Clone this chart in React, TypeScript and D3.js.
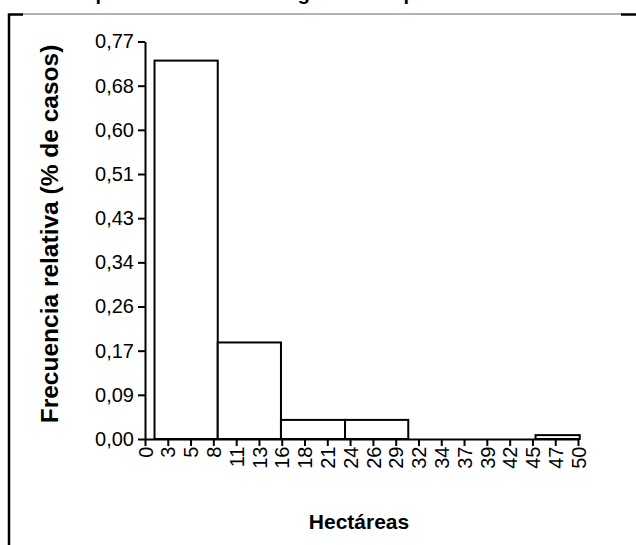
import * as d3 from "d3";
import React, { useEffect, useRef } from "react";

const binEdges = [1.1, 8.4, 15.7, 23.1, 30.4, 37.7, 45.1, 50.2];
const binValues = [0.733, 0.187, 0.037, 0.037, 0, 0, 0.0075];

const yTickValues = [0, 0.0856, 0.1711, 0.2567, 0.3422, 0.4278, 0.5133, 0.5989, 0.6844, 0.77];
const yTickLabels = ["0,00", "0,09", "0,17", "0,26", "0,34", "0,43", "0,51", "0,60", "0,68", "0,77"];

const xTickValues = [
  0, 2.63, 5.26, 7.89, 10.53, 13.16, 15.79, 18.42, 21.05, 23.68, 26.32, 28.95, 31.58, 34.21, 36.84,
  39.47, 42.11, 44.74, 47.37, 50,
];
const xTickLabels = [
  "0", "3", "5", "8", "11", "13", "16", "18", "21", "24", "26", "29", "32", "34", "37", "39", "42",
  "45", "47", "50",
];

const titleText = "Superficie de las fincas ganaderas por tamaño";
const xLabel = "Hectáreas";
const yLabel = "Frecuencia relativa (% de casos)";

const W = 636;
const H = 545;
const FONT = "'Liberation Sans', Arial, sans-serif";

const App: React.FC = () => {
  const ref = useRef<SVGSVGElement>(null);

  useEffect(() => {
    if (!ref.current) return;
    const svg = d3.select(ref.current);
    svg.selectAll("*").remove();

    const x = d3.scaleLinear().domain([0, 50]).range([145, 578]);
    const y = d3.scaleLinear().domain([0, 0.77]).range([439, 41.5]);

    svg.append("rect").attr("width", W).attr("height", H).attr("fill", "#fff");

    // title, cut off at the top edge as in the source image
    svg
      .append("text")
      .attr("x", 70)
      .attr("y", 0)
      .style("font-family", FONT)
      .style("font-weight", "bold")
      .style("font-size", "20px")
      .text(titleText);

    // frame
    svg
      .append("line")
      .attr("x1", 22).attr("x2", 621).attr("y1", 14).attr("y2", 14)
      .attr("stroke", "#666").attr("stroke-width", 1);
    svg
      .append("path")
      .attr("d", `M23,14.5H9V${H}`)
      .attr("fill", "none").attr("stroke", "#000").attr("stroke-width", 2.5);
    svg
      .append("line")
      .attr("x1", 621).attr("x2", W).attr("y1", 14.5).attr("y2", 14.5)
      .attr("stroke", "#000").attr("stroke-width", 2.5);

    // bars
    const bins = binValues.map((v, i) => ({ x0: binEdges[i], x1: binEdges[i + 1], v }));
    svg
      .append("g")
      .selectAll("rect")
      .data(bins.filter((d) => d.v > 0))
      .enter()
      .append("rect")
      .attr("x", (d) => x(d.x0))
      .attr("y", (d) => y(d.v))
      .attr("width", (d) => x(d.x1) - x(d.x0))
      .attr("height", (d) => y(0) - y(d.v))
      .attr("fill", "#fff")
      .attr("stroke", "#000")
      .attr("stroke-width", 2);

    // y axis
    const yAxis = svg
      .append("g")
      .attr("transform", `translate(${x(0)},0)`)
      .call(
        d3
          .axisLeft(y)
          .tickValues(yTickValues)
          .tickFormat((_, i) => yTickLabels[i])
          .tickSize(7)
          .tickSizeOuter(0)
          .tickPadding(4)
      );
    yAxis.selectAll("path, line").attr("stroke", "#000").attr("stroke-width", 2);
    yAxis
      .selectAll("text")
      .attr("fill", "#000")
      .style("font-family", FONT)
      .style("font-size", "20px");

    // x axis
    const xAxis = svg
      .append("g")
      .attr("transform", `translate(0,${y(0)})`)
      .call(
        d3
          .axisBottom(x)
          .tickValues(xTickValues)
          .tickFormat((_, i) => xTickLabels[i])
          .tickSize(7)
          .tickSizeOuter(0)
      );
    xAxis.selectAll("path, line").attr("stroke", "#000").attr("stroke-width", 2);
    xAxis
      .selectAll("text")
      .attr("fill", "#000")
      .attr("transform", "rotate(-90)")
      .attr("x", -7.5)
      .attr("y", 0)
      .attr("dy", "0.36em")
      .attr("text-anchor", "end")
      .style("font-family", FONT)
      .style("font-size", "20px");

    // axis titles
    svg
      .append("text")
      .attr("x", 359)
      .attr("y", 529)
      .attr("text-anchor", "middle")
      .style("font-family", FONT)
      .style("font-weight", "bold")
      .style("font-size", "21px")
      .text(xLabel);

    svg
      .append("text")
      .attr("transform", `translate(58,234) rotate(-90)`)
      .attr("text-anchor", "middle")
      .style("font-family", FONT)
      .style("font-weight", "bold")
      .style("font-size", "24.5px")
      .text(yLabel);
  }, []);

  return (
    <svg
      ref={ref}
      width={W}
      height={H}
      style={{ position: "absolute", left: 0, top: 0, display: "block" }}
    ></svg>
  );
};

export default App;
